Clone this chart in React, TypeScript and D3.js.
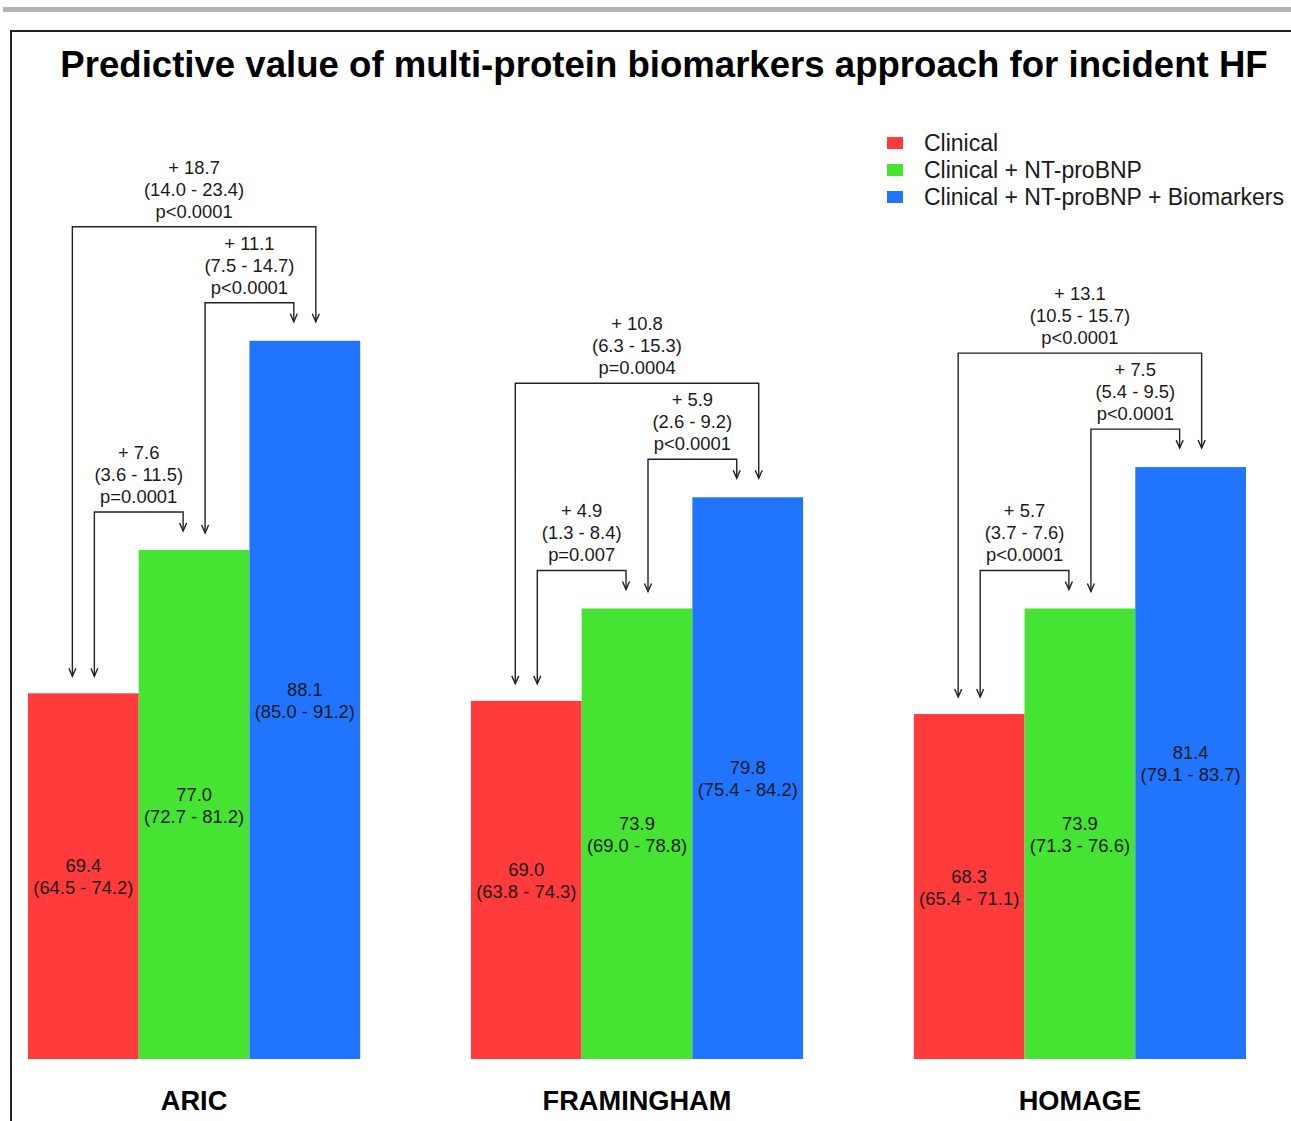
import React from "react"
import * as d3 from "d3"

const title = "Predictive value of multi-protein biomarkers approach for incident HF"

const cohorts = ["ARIC", "FRAMINGHAM", "HOMAGE"]
const models = ["Clinical", "Clinical + NT-proBNP", "Clinical + NT-proBNP + Biomarkers"]
const modelColors = ["#ff3b3b", "#45e433", "#2174ff"]

// C-statistic per cohort, one value per model
const aucValues = [
  [69.4, 77.0, 88.1],
  [69.0, 73.9, 79.8],
  [68.3, 73.9, 81.4]
]
const aucCI = [
  ["64.5 - 74.2", "72.7 - 81.2", "85.0 - 91.2"],
  ["63.8 - 74.3", "69.0 - 78.8", "75.4 - 84.2"],
  ["65.4 - 71.1", "71.3 - 76.6", "79.1 - 83.7"]
]

// comparisons between models: [from, to]
const pairs = [
  [0, 1],
  [1, 2],
  [0, 2]
]
const deltas = [
  ["+ 7.6", "+ 11.1", "+ 18.7"],
  ["+ 4.9", "+ 5.9", "+ 10.8"],
  ["+ 5.7", "+ 7.5", "+ 13.1"]
]
const deltaCI = [
  ["3.6 - 11.5", "7.5 - 14.7", "14.0 - 23.4"],
  ["1.3 - 8.4", "2.6 - 9.2", "6.3 - 15.3"],
  ["3.7 - 7.6", "5.4 - 9.5", "10.5 - 15.7"]
]
const pValues = [
  ["p=0.0001", "p<0.0001", "p<0.0001"],
  ["p=0.007", "p<0.0001", "p=0.0004"],
  ["p<0.0001", "p<0.0001", "p<0.0001"]
]

const width = 1291
const height = 1121
const baseY = 1059
const font = "'Liberation Sans', Arial, sans-serif"
const ink = "#1a1a1a"

const x0 = d3.scaleBand<string>().domain(cohorts).range([28, 1246]).paddingInner(0.25)
const x1 = d3.scaleBand<string>().domain(models).range([0, x0.bandwidth()])
const y = d3.scaleLinear().domain([50, 100]).range([baseY, baseY - 50 * 18.85])

const arrowHead = (x: number, yy: number) =>
  `M${x - 3.5},${yy - 8} L${x},${yy} L${x + 3.5},${yy - 8}`

export default function App() {
  return (
    <svg
      width={width}
      height={height}
      style={{ position: "absolute", left: 0, top: 0, background: "white" }}
      fontFamily={font}
    >
      <rect x={3} y={7} width={width - 3} height={5} fill="#b3b3b3" />
      <path d={`M11,${height} L11,31 L${width},31`} fill="none" stroke="#222" strokeWidth={2} />

      <text x={664} y={77} textAnchor="middle" fontSize={36.6} fontWeight="bold" fill="#000">
        {title}
      </text>

      {/* legend */}
      <g>
        {models.map((m, i) => (
          <g key={m} transform={`translate(887, ${143 + i * 27})`}>
            <rect x={0} y={-6} width={16} height={12} fill={modelColors[i]} />
            <text x={37} y={8} fontSize={23} fill={ink}>
              {m}
            </text>
          </g>
        ))}
      </g>

      {cohorts.map((c, gi) => {
        const gx = x0(c)!
        const cx = (mi: number) => gx + x1(models[mi])! + x1.bandwidth() / 2
        const top = (mi: number) => y(aucValues[gi][mi])
        const adjY = (a: number, b: number) => Math.min(top(a), top(b)) - 38
        const bracketY = [adjY(0, 1), adjY(1, 2), adjY(1, 2) - 76]
        return (
          <g key={c}>
            {models.map((m, mi) => (
              <g key={m}>
                <rect
                  x={gx + x1(m)!}
                  y={top(mi)}
                  width={x1.bandwidth()}
                  height={baseY - top(mi)}
                  fill={modelColors[mi]}
                />
                <text
                  x={cx(mi)}
                  y={(top(mi) + baseY) / 2 - 4}
                  textAnchor="middle"
                  fontSize={18.4}
                  fill={ink}
                >
                  {aucValues[gi][mi].toFixed(1)}
                </text>
                <text
                  x={cx(mi)}
                  y={(top(mi) + baseY) / 2 + 18}
                  textAnchor="middle"
                  fontSize={18.4}
                  fill={ink}
                >
                  ({aucCI[gi][mi]})
                </text>
              </g>
            ))}

            {pairs.map(([a, b], pi) => {
              const wide = a === 0 && b === 2
              const lx = cx(a) + (wide ? -11 : 11)
              const rx = cx(b) + (wide ? 11 : -11)
              const by = bracketY[pi]
              const ly = top(a) - 17
              const ry = top(b) - 19
              const mid = (lx + rx) / 2
              return (
                <g key={pi}>
                  <path
                    d={`M${lx},${ly} L${lx},${by} L${rx},${by} L${rx},${ry}`}
                    fill="none"
                    stroke="#222"
                    strokeWidth={1.4}
                  />
                  <path d={arrowHead(lx, ly)} fill="none" stroke="#222" strokeWidth={1.4} />
                  <path d={arrowHead(rx, ry)} fill="none" stroke="#222" strokeWidth={1.4} />
                  <text x={mid} y={by - 53} textAnchor="middle" fontSize={18.4} fill={ink}>
                    {deltas[gi][pi]}
                  </text>
                  <text x={mid} y={by - 31} textAnchor="middle" fontSize={18.4} fill={ink}>
                    ({deltaCI[gi][pi]})
                  </text>
                  <text x={mid} y={by - 9} textAnchor="middle" fontSize={18.4} fill={ink}>
                    {pValues[gi][pi]}
                  </text>
                </g>
              )
            })}

            <text
              x={gx + x0.bandwidth() / 2}
              y={1110}
              textAnchor="middle"
              fontSize={27.2}
              fontWeight="bold"
              fill="#000"
            >
              {c}
            </text>
          </g>
        )
      })}
    </svg>
  )
}
